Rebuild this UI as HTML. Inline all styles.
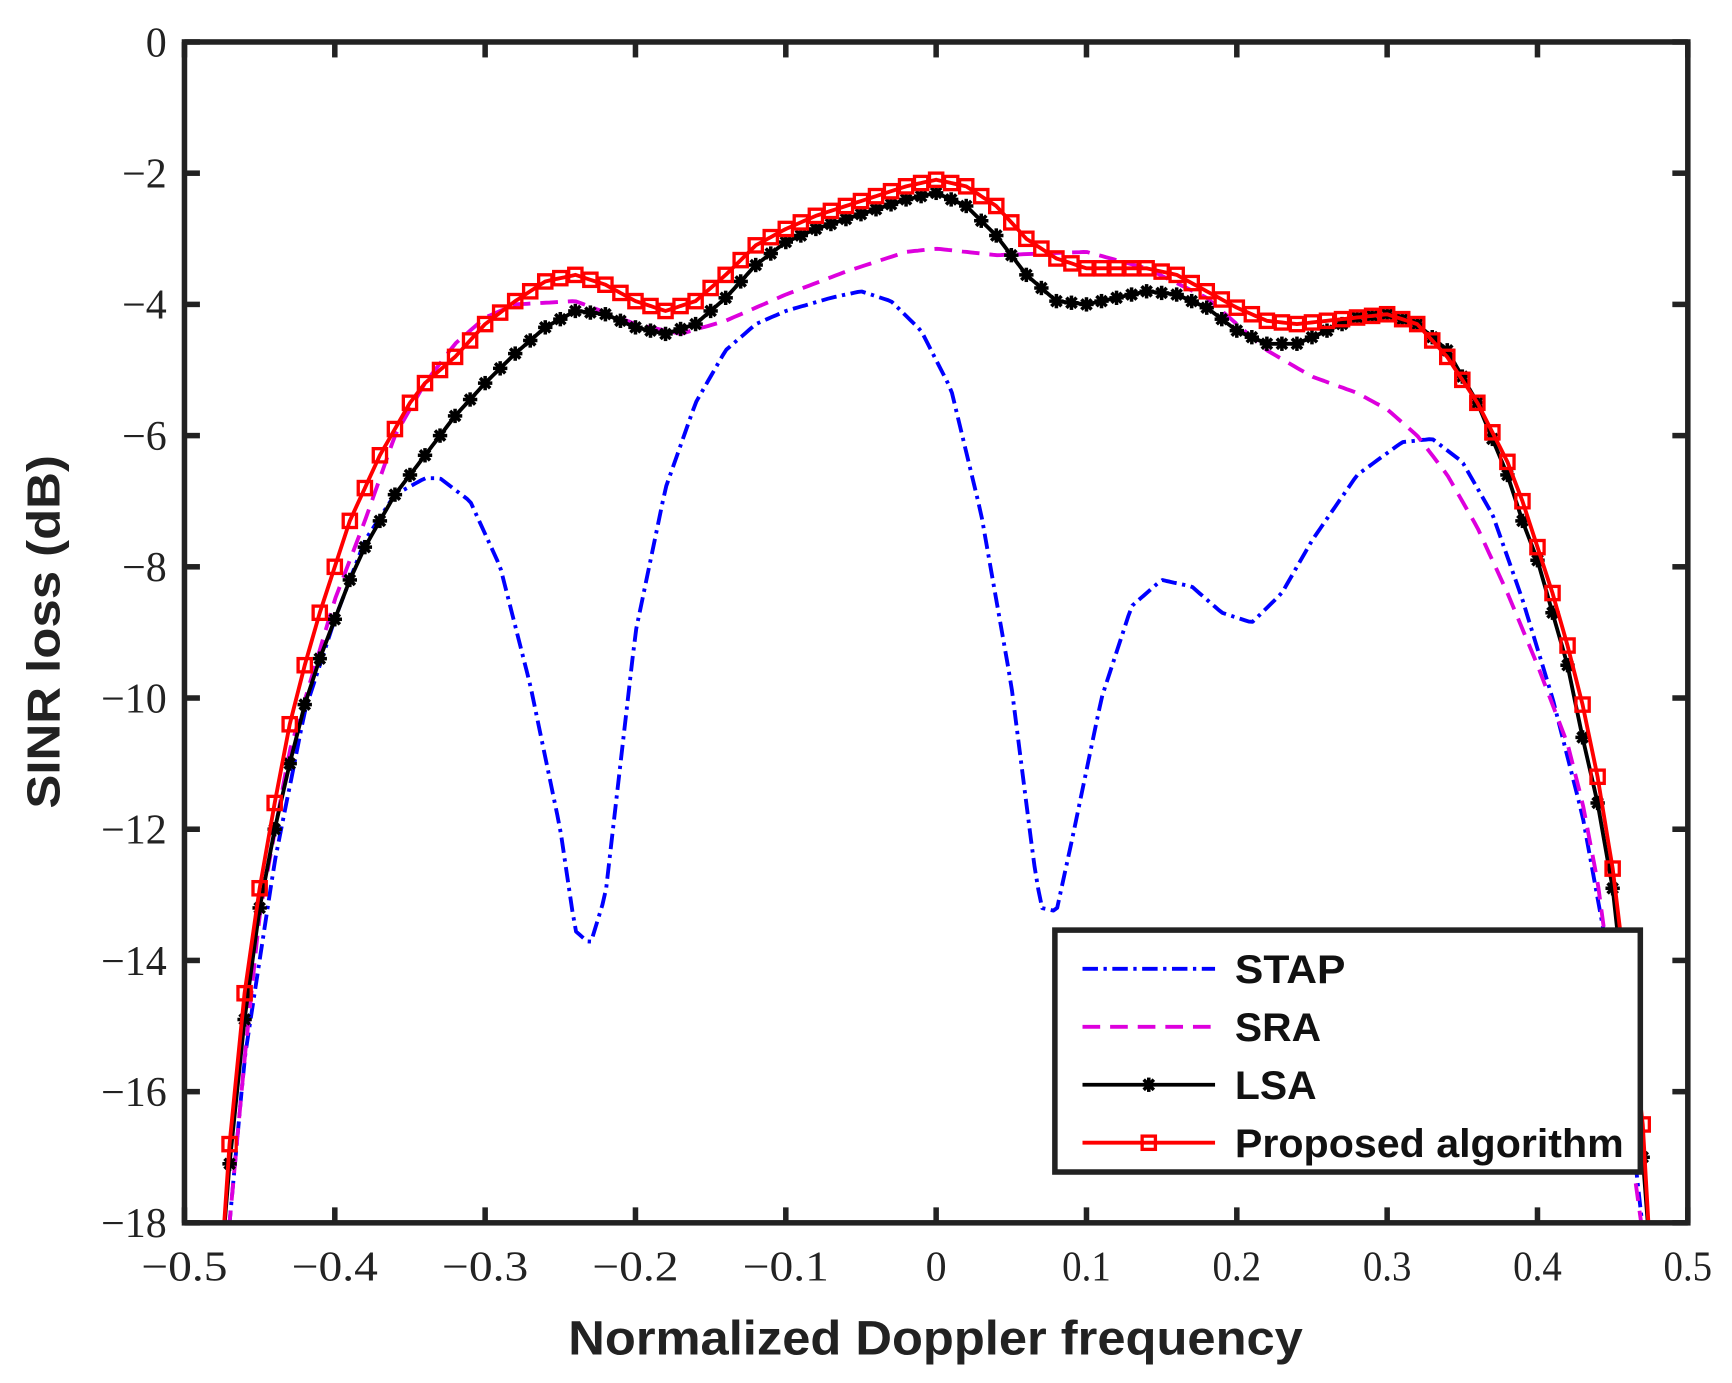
<!DOCTYPE html>
<html><head><meta charset="utf-8"><style>
html,body{margin:0;padding:0;background:#fff;}
svg{display:block;}
</style></head><body>
<svg id="s" width="1732" height="1383" viewBox="0 0 1568 1252" preserveAspectRatio="none" xmlns="http://www.w3.org/2000/svg">
<rect width="1568" height="1252" fill="#fff"/>
<defs><clipPath id="c"><rect x="167" y="38" width="1361" height="1069"/></clipPath></defs>
<g id="curves" clip-path="url(#c)"></g>
<g id="axes"></g>
<text x="54" y="572" transform="rotate(-90 54 572)" text-anchor="middle" font-family="Liberation Sans, sans-serif" font-weight="bold" font-size="42" textLength="320" lengthAdjust="spacingAndGlyphs" fill="#222">SINR loss (dB)</text>
<text x="847" y="1226" text-anchor="middle" font-family="Liberation Sans, sans-serif" font-weight="bold" font-size="44" textLength="665" lengthAdjust="spacingAndGlyphs" fill="#222">Normalized Doppler frequency</text>
<g id="legend"></g>
</svg>
<script>
var NS="http://www.w3.org/2000/svg";
function X(v){return 167+(v+0.5)*1361;}
function Y(v){return 38-v*59.39;}
function el(p,t,a){var e=document.createElementNS(NS,t);for(var k in a)e.setAttribute(k,a[k]);p.appendChild(e);return e;}
function pts(a){var r=[];for(var i=0;i<a.length;i+=2)r.push([a[i],a[i+1]]);return r;}
function interp(P,x){for(var i=0;i<P.length-1;i++){if(x>=P[i][0]&&x<=P[i+1][0]){var t=(x-P[i][0])/(P[i+1][0]-P[i][0]);return P[i][1]+t*(P[i+1][1]-P[i][1]);}}return null;}
function dense(P){var r=[];for(var x=P[0][0];x<=P[P.length-1][0]+1e-9;x+=0.0025){var y=interp(P,Math.min(x,P[P.length-1][0]));if(y!==null)r.push([x,y]);}return r;}
function path(P){var d="";dense(P).forEach(function(p,i){d+=(i?"L":"M")+X(p[0]).toFixed(1)+" "+Y(p[1]).toFixed(1);});return d;}
var red=pts([-0.475,-18.5,-0.47,-16.8,-0.46,-14.5,-0.45,-12.9,-0.44,-11.6,-0.43,-10.4,-0.42,-9.5,-0.41,-8.7,-0.40,-8.0,-0.39,-7.3,-0.38,-6.8,-0.37,-6.3,-0.36,-5.9,-0.35,-5.5,-0.34,-5.2,-0.32,-4.8,-0.30,-4.3,-0.28,-3.95,-0.26,-3.65,-0.24,-3.55,-0.22,-3.7,-0.20,-3.95,-0.18,-4.1,-0.16,-3.95,-0.14,-3.55,-0.12,-3.1,-0.10,-2.85,-0.08,-2.65,-0.06,-2.5,-0.04,-2.35,-0.02,-2.2,0,-2.1,0.02,-2.2,0.04,-2.5,0.06,-3.0,0.08,-3.3,0.10,-3.45,0.12,-3.45,0.14,-3.45,0.16,-3.55,0.18,-3.8,0.20,-4.05,0.22,-4.25,0.24,-4.3,0.26,-4.25,0.28,-4.2,0.30,-4.15,0.32,-4.3,0.34,-4.8,0.36,-5.5,0.38,-6.4,0.39,-7.0,0.40,-7.7,0.41,-8.4,0.42,-9.2,0.43,-10.1,0.44,-11.2,0.45,-12.6,0.46,-14.5,0.47,-16.5,0.475,-18.5]);
var blk=pts([-0.475,-18.5,-0.47,-17.1,-0.46,-14.9,-0.45,-13.2,-0.44,-12.0,-0.43,-11.0,-0.42,-10.1,-0.41,-9.4,-0.40,-8.8,-0.39,-8.2,-0.38,-7.7,-0.37,-7.3,-0.36,-6.9,-0.35,-6.6,-0.34,-6.3,-0.33,-6.0,-0.32,-5.7,-0.30,-5.2,-0.28,-4.75,-0.26,-4.35,-0.24,-4.1,-0.22,-4.15,-0.20,-4.35,-0.18,-4.45,-0.16,-4.3,-0.14,-3.9,-0.12,-3.4,-0.10,-3.05,-0.08,-2.85,-0.06,-2.7,-0.04,-2.55,-0.02,-2.4,0,-2.3,0.02,-2.5,0.04,-2.95,0.06,-3.55,0.08,-3.95,0.10,-4.0,0.12,-3.9,0.14,-3.8,0.16,-3.85,0.18,-4.05,0.20,-4.4,0.22,-4.6,0.24,-4.6,0.26,-4.4,0.28,-4.2,0.30,-4.15,0.32,-4.3,0.34,-4.7,0.36,-5.5,0.38,-6.6,0.39,-7.3,0.40,-7.9,0.41,-8.7,0.42,-9.5,0.43,-10.6,0.44,-11.6,0.45,-12.9,0.46,-15,0.47,-17,0.475,-18.5]);
var mag=pts([-0.472,-18.5,-0.46,-15.5,-0.45,-13.3,-0.43,-10.8,-0.40,-8.5,-0.38,-7.3,-0.36,-6.0,-0.34,-5.2,-0.32,-4.6,-0.30,-4.2,-0.28,-4.0,-0.24,-3.95,-0.20,-4.3,-0.17,-4.45,-0.14,-4.25,-0.10,-3.85,-0.06,-3.5,-0.02,-3.2,0,-3.15,0.04,-3.25,0.10,-3.2,0.14,-3.45,0.18,-3.9,0.22,-4.7,0.25,-5.1,0.28,-5.35,0.30,-5.6,0.32,-6.0,0.34,-6.6,0.36,-7.4,0.38,-8.4,0.40,-9.5,0.42,-10.7,0.43,-11.6,0.44,-12.8,0.45,-14.5,0.46,-16.5,0.472,-18.5]);
var blu=pts([-0.472,-18.5,-0.46,-15.5,-0.44,-12.5,-0.42,-10.2,-0.40,-8.8,-0.38,-7.6,-0.36,-6.9,-0.34,-6.65,-0.33,-6.65,-0.31,-7.0,-0.29,-8.0,-0.27,-9.8,-0.25,-12.0,-0.24,-13.55,-0.23,-13.75,-0.22,-13.0,-0.21,-11.0,-0.20,-9.0,-0.18,-6.8,-0.16,-5.5,-0.14,-4.7,-0.12,-4.3,-0.10,-4.1,-0.07,-3.9,-0.05,-3.8,-0.03,-3.95,-0.01,-4.4,0.01,-5.3,0.03,-7.2,0.05,-9.8,0.065,-12.5,0.07,-13.2,0.08,-13.25,0.09,-12.2,0.11,-10.0,0.13,-8.6,0.15,-8.2,0.17,-8.3,0.19,-8.7,0.21,-8.85,0.23,-8.4,0.25,-7.6,0.28,-6.6,0.31,-6.1,0.33,-6.05,0.35,-6.4,0.37,-7.2,0.39,-8.5,0.41,-10.0,0.43,-11.8,0.45,-14.3,0.46,-16,0.472,-18.5]);
var C=document.getElementById("curves");
el(C,"path",{d:path(blu),fill:"none",stroke:"#0000ff","stroke-width":3.5,"stroke-dasharray":"14 5 3 5","stroke-linejoin":"round"});
el(C,"path",{d:path(mag),fill:"none",stroke:"#dd00dd","stroke-width":3.5,"stroke-dasharray":"16 9","stroke-linejoin":"round"});
el(C,"path",{d:path(blk),fill:"none",stroke:"#000","stroke-width":3.5,"stroke-linejoin":"round"});
function star(g,x,y){for(var a=0;a<4;a++){var t=a*Math.PI/4;el(g,"line",{x1:x-6.5*Math.cos(t),y1:y-6.5*Math.sin(t),x2:x+6.5*Math.cos(t),y2:y+6.5*Math.sin(t),stroke:"#000","stroke-width":3.2});}}
function sq(g,x,y){el(g,"rect",{x:x-6,y:y-6,width:12,height:12,fill:"none",stroke:"#ff0000","stroke-width":3});}
for(var x=-0.47;x<=0.4701;x+=0.01){var y=interp(blk,x);if(y!==null)star(C,X(x),Y(y));}
el(C,"path",{d:path(red),fill:"none",stroke:"#ff0000","stroke-width":3.5,"stroke-linejoin":"round"});
for(var x=-0.47;x<=0.4701;x+=0.01){var y=interp(red,x);if(y!==null)sq(C,X(x),Y(y));}
var A=document.getElementById("axes");
el(A,"rect",{x:167,y:38,width:1361,height:1069,fill:"none",stroke:"#222","stroke-width":5});
for(var i=0;i<=10;i++){var v=-0.5+i*0.1,px=X(v);
 el(A,"line",{x1:px,y1:1107,x2:px,y2:1093,stroke:"#222","stroke-width":5});
 el(A,"line",{x1:px,y1:38,x2:px,y2:52,stroke:"#222","stroke-width":5});
 var neg=v<-1e-9,s=(Math.abs(v)<1e-9)?"0":(neg?"\u2212":"")+Math.abs(v).toFixed(1);
 var a={x:px,y:1159,"text-anchor":"middle","font-family":"Liberation Serif, serif","font-size":38,fill:"#222"};
 if(Math.abs(v)>1e-9){a.textLength=neg?78:44;a.lengthAdjust="spacingAndGlyphs";}
 var t=el(A,"text",a);t.textContent=s;}
for(var i=0;i<=9;i++){var v=-2*i,py=Y(v);
 el(A,"line",{x1:167,y1:py,x2:181,y2:py,stroke:"#222","stroke-width":5});
 el(A,"line",{x1:1528,y1:py,x2:1514,y2:py,stroke:"#222","stroke-width":5});
 var t=el(A,"text",{x:151,y:py+13,"text-anchor":"end","font-family":"Liberation Serif, serif","font-size":38,fill:"#222"});t.textContent=v==0?"0":"\u2212"+(-v);}
var L=document.getElementById("legend");
el(L,"rect",{x:955,y:842,width:530,height:219,fill:"#fff",stroke:"#222","stroke-width":5});
var items=[["STAP","#0000ff","14 5 3 5",100],["SRA","#dd00dd","16 9",78],["LSA","#000","",74],["Proposed algorithm","#ff0000","",352]];
items.forEach(function(it,i){var y=877+i*52.5;
 var a={x1:980,y1:y,x2:1100,y2:y,stroke:it[1],"stroke-width":3.5};if(it[2])a["stroke-dasharray"]=it[2];el(L,"line",a);
 if(i==2)star(L,1040,y);if(i==3)sq(L,1040,y);
 var t=el(L,"text",{x:1118,y:y+13,"font-family":"Liberation Sans, sans-serif","font-weight":"bold","font-size":36,textLength:it[3],lengthAdjust:"spacingAndGlyphs",fill:"#111"});t.textContent=it[0];});
</script>
</body></html>
